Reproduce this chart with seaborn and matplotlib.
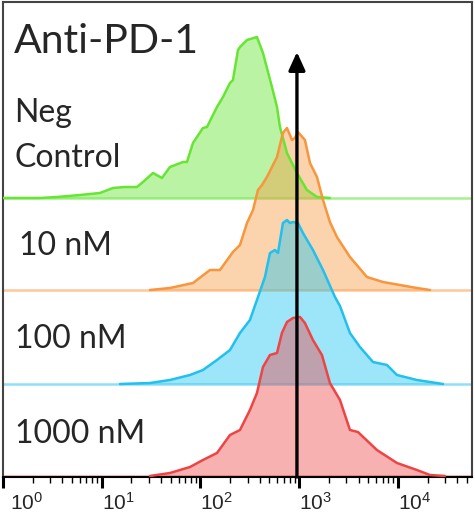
import numpy as np
import pandas as pd
import matplotlib
matplotlib.use("Agg")
import matplotlib.pyplot as plt
import seaborn as sns

# ---- data (x in log10 fluorescence, y = counts) ----
neg_x = [0.00, 0.375, 0.547, 0.780, 0.982, 1.114, 1.235, 1.357, 1.418, 1.519, 1.610, 1.691,
         1.823, 1.863, 1.924, 2.025, 2.066, 2.167, 2.228, 2.299, 2.329, 2.380, 2.400, 2.471,
         2.572, 2.633, 2.724, 2.775, 2.805, 2.876, 2.977, 3.078, 3.180, 3.311]
neg_y = [0, 0, 1, 3, 5, 10, 11, 11, 16, 25, 20, 31,
         36, 36, 55, 70, 71, 91, 101, 115, 118, 148, 151, 158,
         161, 145, 111, 91, 71, 45, 25, 8, 1, 0]

nm10_x = [1.489, 1.691, 1.924, 2.096, 2.197, 2.329, 2.400, 2.471, 2.532, 2.582, 2.623, 2.673,
          2.775, 2.835, 2.876, 2.927, 2.957, 2.987, 3.058, 3.109, 3.180, 3.241, 3.311, 3.382,
          3.514, 3.686, 3.848, 4.020, 4.192, 4.324]
nm10_y = [0, 2, 7, 20, 20, 38, 45, 67, 80, 100, 105, 113,
          133, 157, 162, 150, 152, 158, 150, 127, 113, 90, 68, 53,
          33, 13, 8, 5, 2, 0]

nm100_x = [1.185, 1.489, 1.691, 1.894, 2.025, 2.167, 2.299, 2.400, 2.501, 2.572, 2.653, 2.704,
           2.754, 2.785, 2.835, 2.876, 2.906, 2.937, 2.987, 3.038, 3.139, 3.241, 3.362, 3.413,
           3.514, 3.615, 3.747, 3.889, 3.990, 4.192, 4.456]
nm100_y = [0, 1, 4, 9, 14, 24, 34, 51, 64, 84, 107, 131,
           134, 131, 161, 164, 161, 162, 161, 151, 134, 114, 87, 78,
           51, 37, 22, 19, 9, 4, 0]

nm1000_x = [1.489, 1.691, 1.894, 2.025, 2.167, 2.299, 2.400, 2.501, 2.572, 2.633, 2.704, 2.775,
            2.825, 2.876, 2.937, 3.008, 3.058, 3.139, 3.230, 3.311, 3.413, 3.514, 3.595, 3.787,
            3.990, 4.192, 4.324, 4.476]
nm1000_y = [0, 3, 9, 16, 23, 41, 46, 66, 83, 109, 121, 123,
            143, 154, 158, 159, 153, 136, 121, 93, 76, 46, 44, 26,
            13, 6, 1, 0]

labels = ["Neg\nControl", "10 nM", "100 nM", "1000 nM"]
tick_exps = [0, 1, 2, 3, 4]
marker_log = 2.977

W, H = 475, 520
fig = plt.figure(figsize=(W / 100, H / 100), dpi=100)
sns.set_style("white")
plt.rcParams["font.family"] = ["Lato", "DejaVu Sans"]
plt.rcParams["mathtext.fontset"] = "custom"
plt.rcParams["mathtext.rm"] = "Liberation Sans"
plt.rcParams["mathtext.it"] = "Liberation Sans"


def fx(x):
    return x / W


def fy(y):
    return (H - y) / H


ax = fig.add_axes([fx(3), fy(477), fx(472) - fx(3), fy(2) - fy(477)])

series = [
    (neg_x, neg_y, 279, "#66e633", (0.40, 0.90, 0.20, 0.45), "#a6f090"),
    (nm10_x, nm10_y, 187, "#f7963c", (0.97, 0.59, 0.24, 0.42), "#fdc89a"),
    (nm100_x, nm100_y, 93, "#22c0ee", (0.15, 0.78, 0.94, 0.45), "#8ee0f8"),
    (nm1000_x, nm1000_y, 1, "#ee4444", (0.94, 0.27, 0.27, 0.42), "#ffa0a0"),
]

for xs, ys, base, lc, fc, bc in series:
    df = pd.DataFrame({"x": 10 ** np.array(xs), "y": np.array(ys) + base})
    ax.axhline(base, color=bc, lw=1.8, zorder=1)
    ax.fill_between(df["x"], base, df["y"], color=fc, lw=0, zorder=2)
    sns.lineplot(data=df, x="x", y="y", ax=ax, color=lc, lw=1.8, zorder=3,
                 estimator=None, sort=False)

ax.set_xscale("log")
ax.set_xlim(1, 10 ** 4.75)
ax.set_ylim(0, 475)
ax.set_xlabel("")
ax.set_ylabel("")
ax.set_yticks([])

# arrow
ax.annotate("", xy=(10 ** marker_log, 425), xytext=(10 ** marker_log, 0),
            arrowprops=dict(arrowstyle="-|>,head_length=1.1,head_width=0.5",
                            color="black", lw=2.4, shrinkA=0, shrinkB=0),
            zorder=5)

ax.set_xticks([10 ** e for e in tick_exps])
ax.set_xticklabels([r"$\mathregular{10^{%d}}$" % e for e in tick_exps], fontsize=15,
                   ha="left")
ax.xaxis.set_minor_locator(matplotlib.ticker.LogLocator(base=10, subs=np.arange(2, 10), numticks=20))
ax.xaxis.set_minor_formatter(matplotlib.ticker.NullFormatter())
ax.tick_params(axis="x", which="major", direction="out", length=8, width=2.2, pad=3,
               color="black", bottom=True)
ax.tick_params(axis="x", which="minor", direction="out", length=4, width=1.0,
               color="black", bottom=True)
for i, lbl in enumerate(ax.get_xticklabels()):
    lbl.set_fontfamily("Liberation Sans")
    if i == 0:
        lbl.set_transform(lbl.get_transform() + matplotlib.transforms.ScaledTranslation(0.07, 0, fig.dpi_scale_trans))

for s in ["left", "top", "right"]:
    ax.spines[s].set_color("#444444")
    ax.spines[s].set_linewidth(1.5)
ax.spines["bottom"].set_color("black")
ax.spines["bottom"].set_linewidth(1.5)

fig.text(fx(14), fy(53), "Anti-PD-1", fontsize=29.5, va="baseline", ha="left")
fig.text(fx(14), fy(122), "Neg", fontsize=23, va="baseline", ha="left")
fig.text(fx(14), fy(167), "Control", fontsize=23, va="baseline", ha="left")
fig.text(fx(19), fy(255), labels[1], fontsize=23, va="baseline", ha="left")
fig.text(fx(15), fy(348), labels[2], fontsize=23, va="baseline", ha="left")
fig.text(fx(15), fy(443), labels[3], fontsize=23, va="baseline", ha="left")

fig.savefig("out.png", dpi=100)
